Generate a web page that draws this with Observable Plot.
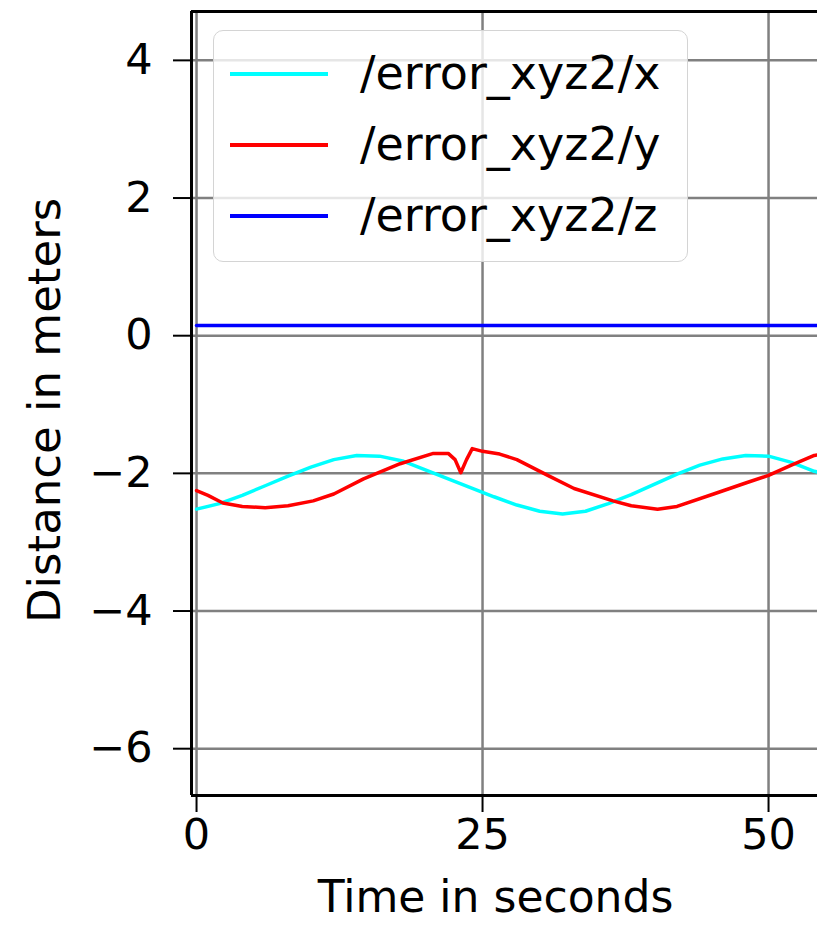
<!DOCTYPE html>
<html>
<head>
<meta charset="utf-8">
<script src="https://cdn.jsdelivr.net/npm/d3@7"></script>
<script src="https://cdn.jsdelivr.net/npm/@observablehq/plot@0.6"></script>
<style>
  html, body { margin: 0; padding: 0; background: #fff; }
  #wrap { position: relative; width: 817px; height: 930px; font-family: "DejaVu Sans", sans-serif; }
  #legend { position: absolute; left: 213px; top: 30px; width: 475px; height: 232px;
    border: 1.5px solid #d4d4d4; border-radius: 10px; background: rgba(255,255,255,0.8); box-sizing: border-box; }
  .row { position: absolute; left: 0; height: 0; }
  .sw { position: absolute; left: 16px; width: 98px; height: 3.5px; top: -1.75px; }
  .lb { position: absolute; left: 146px; top: -28px; font-size: 46px; line-height: 54px; white-space: nowrap; color: #000; }
</style>
</head>
<body>
<div id="wrap"></div>
<script>
// ---- data ----
const seriesNames = ["/error_xyz2/x", "/error_xyz2/y", "/error_xyz2/z"];
const seriesColors = ["#00ffff", "#ff0000", "#0000ff"];

const xTime = [0, 2, 4, 6, 8, 10, 12, 14, 16, 18, 20, 22, 24, 26, 28, 30, 32, 34, 36, 38, 40, 42, 44, 46, 48, 50, 52, 54, 54.8];
const xValues = [-2.52, -2.44, -2.32, -2.18, -2.04, -1.91, -1.80, -1.74, -1.75, -1.82, -1.95, -2.08, -2.21, -2.34, -2.46, -2.55, -2.59, -2.55, -2.44, -2.31, -2.16, -2.01, -1.88, -1.79, -1.74, -1.75, -1.84, -1.97, -2.00];

const yTime = [0, 1, 2.3, 4, 6, 8, 10.2, 12, 14.6, 17.8, 20.7, 22, 22.6, 23.1, 23.6, 24.1, 25, 26.5, 28, 30.7, 33, 36.4, 38, 40.3, 42, 45.2, 48, 50, 52, 54, 54.8];
const yValues = [-2.25, -2.32, -2.43, -2.48, -2.50, -2.47, -2.40, -2.30, -2.08, -1.86, -1.71, -1.71, -1.80, -1.99, -1.80, -1.64, -1.68, -1.72, -1.80, -2.03, -2.22, -2.40, -2.47, -2.52, -2.48, -2.30, -2.14, -2.03, -1.88, -1.74, -1.72];

const zTime = [0, 10, 20, 30, 40, 50, 54.8];
const zValues = [0.15, 0.15, 0.15, 0.15, 0.15, 0.15, 0.15];

const xTicks = [0, 25, 50];
const yTicks = [4, 2, 0, -2, -4, -6];
const xDomain = [-0.44, 54.28];
const yDomain = [-6.68, 4.71];
const xLabel = "Time in seconds";
const yLabel = "Distance in meters";

// ---- build table ----
const rows = [];
[[xTime, xValues], [yTime, yValues], [zTime, zValues]].forEach(([ts, vs], i) => {
  ts.forEach((t, j) => rows.push({t, v: vs[j], series: seriesNames[i]}));
});

const fmt = d => d < 0 ? "\u2212" + Math.abs(d) : String(d);

const chart = Plot.plot({
  width: 817,
  height: 930,
  marginLeft: 191,
  marginRight: 0,
  marginTop: 11,
  marginBottom: 135,
  style: {fontFamily: "DejaVu Sans", fontSize: "42px", color: "#000", background: "#fff"},
  x: {domain: xDomain, axis: null},
  y: {domain: yDomain, axis: null},
  color: {domain: seriesNames, range: seriesColors},
  marks: [
    Plot.gridX(xTicks, {stroke: "#808080", strokeOpacity: 1, strokeWidth: 2.5}),
    Plot.gridY(yTicks, {stroke: "#808080", strokeOpacity: 1, strokeWidth: 2.5}),
    Plot.line(rows, {x: "t", y: "v", z: "series", stroke: "series", strokeWidth: 3.5, clip: true}),
    Plot.ruleX([xDomain[0]], {stroke: "#000", strokeWidth: 3}),
    Plot.ruleY([yDomain[0], yDomain[1]], {stroke: "#000", strokeWidth: 3}),
    Plot.axisX(xTicks, {tickSize: 17, tickPadding: 6, strokeWidth: 2, fontSize: 43, tickFormat: fmt, label: null}),
    Plot.axisY(yTicks, {tickSize: 18, tickPadding: 21, strokeWidth: 2, fontSize: 43, tickFormat: fmt, label: null}),
    Plot.text([yLabel], {frameAnchor: "left", textAnchor: "middle", rotate: -90, dx: -146, dy: 7, fontSize: 45, fill: "#000"}),
    Plot.text([xLabel], {frameAnchor: "bottom", textAnchor: "middle", dy: 116, dx: -9, fontSize: 44, fill: "#000"})
  ]
});

const wrap = document.getElementById("wrap");
wrap.appendChild(chart);

// ---- legend overlay ----
const legend = document.createElement("div");
legend.id = "legend";
seriesNames.forEach((name, i) => {
  const row = document.createElement("div");
  row.className = "row";
  row.style.top = (43 + i * 71) + "px";
  const sw = document.createElement("div");
  sw.className = "sw";
  sw.style.background = seriesColors[i];
  const lb = document.createElement("div");
  lb.className = "lb";
  lb.textContent = name;
  row.appendChild(sw);
  row.appendChild(lb);
  legend.appendChild(row);
});
wrap.appendChild(legend);
</script>
</body>
</html>
